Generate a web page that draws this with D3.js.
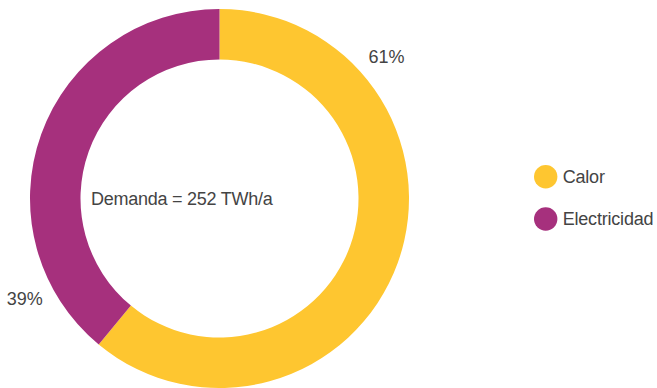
<!DOCTYPE html>
<html><head><meta charset="utf-8">
<script src="https://cdn.jsdelivr.net/npm/d3@7"></script>
<style>
html,body{margin:0;padding:0;background:#fff;}
svg{display:block;}
text{font-family:"Liberation Sans",Arial,Helvetica,sans-serif;fill:#444;}
</style></head>
<body>
<svg id="chart" width="657" height="388"></svg>
<script>
const categories = ["Calor", "Electricidad"];
const values = [61, 39];
const valueLabels = ["61%", "39%"];
const colors = ["#FEC630", "#A6307D"];
const centerLabel = "Demanda = 252 TWh/a";

const svg = d3.select("#chart");
const cx = 219.5, cy = 198.5, rOuter = 189.5, rInner = 139;
const g = svg.append("g").attr("transform", `translate(${cx},${cy})`);

const data = categories.map((c, i) => ({cat: c, value: values[i], label: valueLabels[i], color: colors[i]}));
const pie = d3.pie().value(d => d.value).sort(null);
const arcs = pie(data);
const arc = d3.arc().innerRadius(rInner).outerRadius(rOuter);

g.selectAll("path.slice").data(arcs).enter().append("path")
  .attr("class", "slice")
  .attr("d", arc)
  .attr("fill", d => d.data.color);

// percentage labels placed outside the ring
const labelAngles = [0.867, 4.237]; // radians, clockwise from top
const labelR = 219;
g.selectAll("text.pct").data(arcs).enter().append("text")
  .attr("class", "pct")
  .attr("x", (d, i) => labelR * Math.sin(labelAngles[i]))
  .attr("y", (d, i) => -labelR * Math.cos(labelAngles[i]))
  .attr("text-anchor", "middle")
  .attr("dominant-baseline", "central")
  .style("font-size", "18px")
  .text(d => d.data.label);

g.append("text")
  .attr("x", -128.5)
  .attr("y", 0)
  .attr("dominant-baseline", "central")
  .style("font-size", "18px")
  .style("letter-spacing", "-0.25px")
  .text(centerLabel);

// legend
const legend = svg.append("g").attr("transform", "translate(545.7,176.7)");
const ly = d3.scaleBand().domain(categories).range([0, 84.6]).paddingInner(0).paddingOuter(0);
const item = legend.selectAll("g.item").data(data).enter().append("g")
  .attr("class", "item")
  .attr("transform", d => `translate(0,${ly(d.cat)})`);
item.append("circle").attr("r", 11.7).attr("fill", d => d.color);
item.append("text")
  .attr("x", 17)
  .attr("y", 0)
  .attr("dominant-baseline", "central")
  .style("font-size", "18px")
  .style("letter-spacing", "-0.2px")
  .text(d => d.cat);
</script>
</body></html>
